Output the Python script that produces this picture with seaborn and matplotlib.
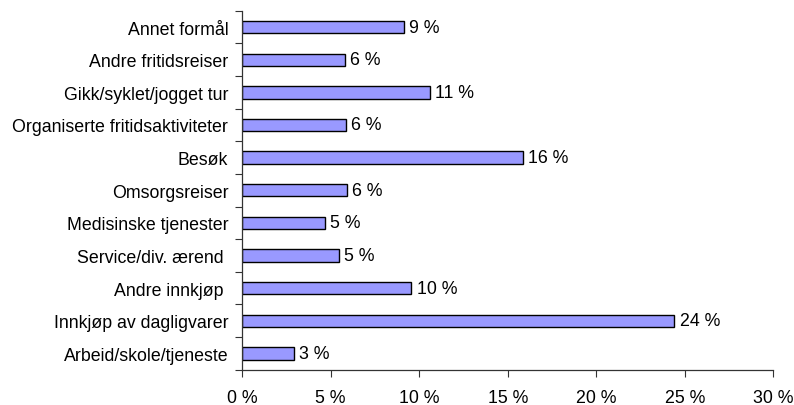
import matplotlib
matplotlib.use("Agg")
import matplotlib.pyplot as plt
import seaborn as sns
import pandas as pd
import numpy as np
from matplotlib.ticker import FixedLocator, FuncFormatter

categories = ["Annet formål", "Andre fritidsreiser", "Gikk/syklet/jogget tur",
              "Organiserte fritidsaktiviteter", "Besøk", "Omsorgsreiser",
              "Medisinske tjenester", "Service/div. ærend ", "Andre innkjøp ",
              "Innkjøp av dagligvarer", "Arbeid/skole/tjeneste"]
values = [9.15, 5.78, 10.58, 5.84, 15.86, 5.91, 4.67, 5.46, 9.55, 24.4, 2.92]
value_labels = ["9 %", "6 %", "11 %", "6 %", "16 %", "6 %", "5 %", "5 %", "10 %", "24 %", "3 %"]
x_ticks = [0, 5, 10, 15, 20, 25, 30]

sns.set_style("white")
plt.rcParams['font.family'] = ['Liberation Sans', 'DejaVu Sans']
FS = 12.8

df = pd.DataFrame({"cat": categories, "val": values})

fig = plt.figure(figsize=(7.94, 4.06), dpi=100)
ax = fig.add_axes([0.305, 0.087, 0.669, 0.884])

sns.barplot(data=df, x="val", y="cat", orient="h", color="#9999FF", saturation=1,
            edgecolor="black", linewidth=1, width=0.38, ax=ax)

for p, lab in zip(ax.patches, value_labels):
    ax.text(p.get_width() + 0.3, p.get_y() + p.get_height() / 2, lab,
            va="center", ha="left", fontsize=FS, color="black")

ax.set_xlim(0, 30)
ax.set_ylim(len(categories) - 0.5, -0.5)
ax.set_xticks(x_ticks)
ax.xaxis.set_major_formatter(FuncFormatter(lambda v, p: f"{int(v)} %"))
ax.set_xlabel("")
ax.set_ylabel("")

ax.yaxis.set_minor_locator(FixedLocator(np.arange(-0.5, len(categories), 1)))
ax.tick_params(axis="y", which="major", length=0, labelsize=FS, pad=10, labelcolor="black")
ax.tick_params(axis="y", which="minor", length=5, width=0.8, color="#333333", left=True)
ax.tick_params(axis="x", which="major", length=5, width=0.8, color="#333333", bottom=True,
               labelsize=FS, pad=9, labelcolor="black")

for s in ["top", "right"]:
    ax.spines[s].set_visible(False)
for s in ["left", "bottom"]:
    ax.spines[s].set_color("#333333")
    ax.spines[s].set_linewidth(0.9)

fig.savefig("out.png", dpi=100)
